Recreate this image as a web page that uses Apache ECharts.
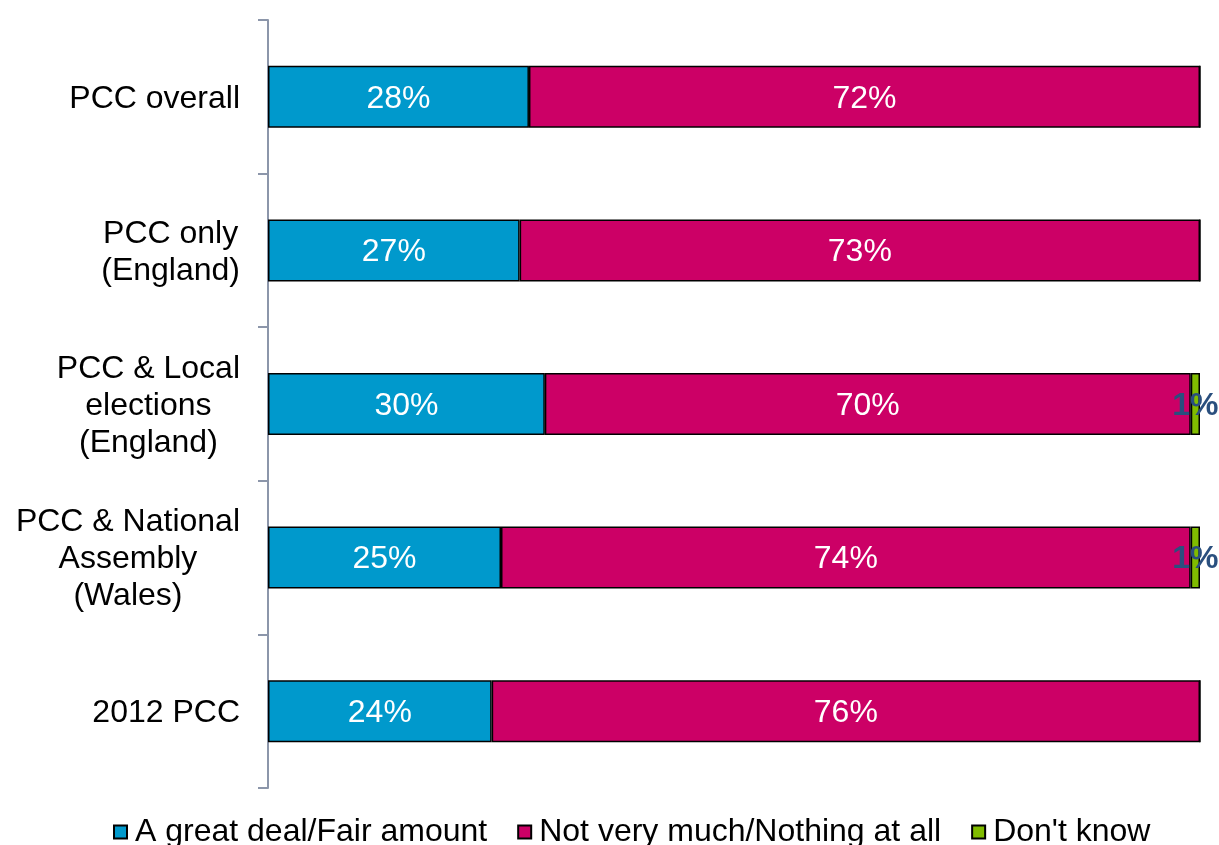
<!DOCTYPE html>
<html>
<head>
<meta charset="utf-8">
<script src="https://cdn.jsdelivr.net/npm/echarts@6/dist/echarts.min.js"></script>
<style>
html,body{margin:0;padding:0;background:#fff;}
#chart{width:1219px;height:845px;}
</style>
</head>
<body>
<div id="chart"></div>
<script>
var categories = ['PCC overall', 'PCC only\n(England)', 'PCC & Local\nelections\n(England)', 'PCC & National\nAssembly\n(Wales)', '2012 PCC'];
var seriesNames = ['A great deal/Fair amount', 'Not very much/Nothing at all', "Don't know"];
var greatDeal = [28, 27, 30, 25, 24];
var notMuch = [72, 73, 70, 74, 76];
var dontKnow = [0, 0, 1, 1, 0];
var colors = ['#0099CC', '#CC0066', '#80BC00'];

var rowTotals = categories.map(function (_, i) { return greatDeal[i] + notMuch[i] + dontKnow[i]; });
function share(arr) {
  return arr.map(function (v, i) { return { value: v / rowTotals[i] * 100, raw: v }; });
}

var chart = echarts.init(document.getElementById('chart'));
var FONT = 'Liberation Sans, Arial, sans-serif';
var FS = 32;

function makeSeries(name, arr, color, labelStyle) {
  return {
    name: name,
    type: 'bar',
    stack: 'total',
    barWidth: 62,
    data: share(arr),
    itemStyle: { color: color, borderColor: '#000', borderWidth: 1.5 },
    label: Object.assign({
      show: true,
      position: 'inside',
      offset: [0, 2],
      fontFamily: FONT,
      fontSize: FS,
      color: '#fff',
      formatter: function (p) { return p.data.raw > 0 ? p.data.raw + '%' : ''; }
    }, labelStyle || {}),
    emphasis: { disabled: true }
  };
}

chart.setOption({
  animation: false,
  textStyle: { fontFamily: FONT },
  grid: { left: 268, right: 19, top: 20, bottom: 57, containLabel: false },
  legend: {
    bottom: -8,
    left: 108,
    icon: 'rect',
    itemWidth: 13,
    itemHeight: 13,
    itemGap: 30,
    textStyle: { fontFamily: FONT, fontSize: FS, color: '#000', padding: [0, 0, 0, 3] },
    data: seriesNames
  },
  xAxis: {
    type: 'value',
    min: 0,
    max: 100,
    show: false
  },
  yAxis: {
    type: 'category',
    inverse: true,
    data: categories,
    axisLine: { show: true, lineStyle: { color: '#8C96AA', width: 2 } },
    axisTick: { show: true, length: 10, lineStyle: { color: '#8C96AA', width: 2 } },
    axisLabel: {
      margin: 28,
      align: 'right',
      fontFamily: FONT,
      fontSize: FS,
      color: '#000',
      lineHeight: 37,
      padding: [4, 0, 0, 0],
      formatter: function (v) {
        return v.split('\n').map(function (l) { return '{c|' + l + '}'; }).join('\n');
      },
      rich: { c: { align: 'center', fontSize: FS, lineHeight: 37, color: '#000', fontFamily: FONT } }
    },
    splitLine: { show: false }
  },
  series: [
    makeSeries(seriesNames[0], greatDeal, colors[0]),
    makeSeries(seriesNames[1], notMuch, colors[1]),
    makeSeries(seriesNames[2], dontKnow, colors[2], { color: '#2A4F7E', fontWeight: 'bold' })
  ]
});
</script>
</body>
</html>
